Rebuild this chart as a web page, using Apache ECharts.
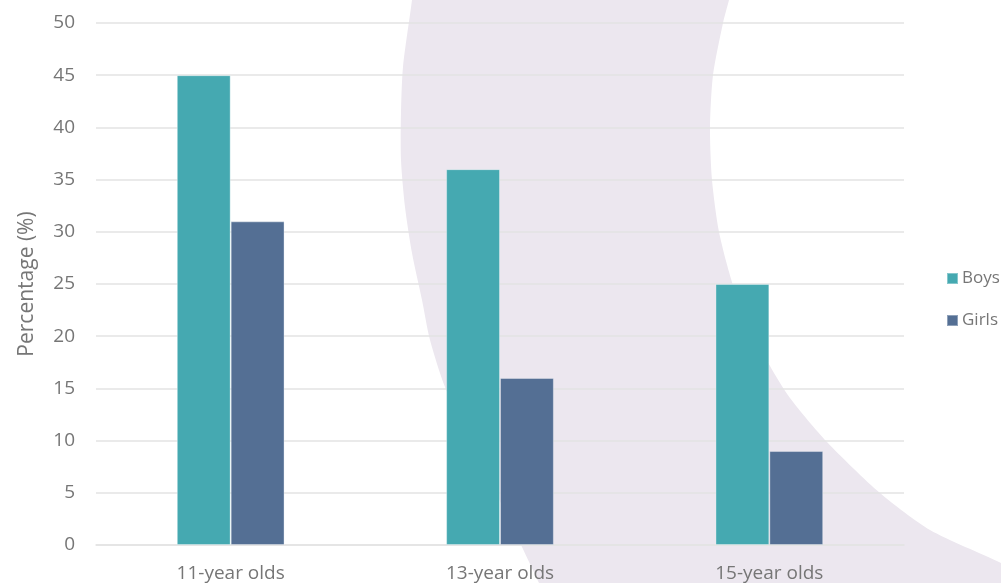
<!DOCTYPE html>
<html>
<head>
<meta charset="utf-8">
<script src="https://cdn.jsdelivr.net/npm/echarts@6/dist/echarts.min.js"></script>
<style>
html,body{margin:0;padding:0;background:#fff;}
#chart{width:1001px;height:583px;}
</style>
</head>
<body>
<div id="chart"></div>
<script>
const categories = ['11-year olds', '13-year olds', '15-year olds'];
const boys = [45, 36, 25];
const girls = [31, 16, 9];
const seriesNames = ['Boys', 'Girls'];

const leftEdge = [[414,-20],[412,0],[403,67],[401,113],[401,160],[405,207],[412,253],[422,300],[430,340],[445,387],[470,440],[496,493],[522,547],[539,583],[549,605]];
const rightEdge = [[1040,585],[1001,563],[930,530],[880,493],[827,442],[790,398],[770,366],[750,327],[733,285],[719,232],[712,180],[710,128],[713,75],[723,23],[729,0],[734,-20]];

const chart = echarts.init(document.getElementById('chart'), null, {renderer: 'canvas'});
const font = 'Open Sans';
const gray = '#767676';

chart.setOption({
  animation: false,
  color: ['#45A9B1', '#546F94'],
  graphic: [{
    type: 'polygon',
    z: -10,
    silent: true,
    shape: {
      points: leftEdge.concat([[565,700],[1100,700],[1100,620]], rightEdge, [[740,-80],[400,-80]]),
      smooth: 0.25,
      smoothConstraint: false
    },
    style: {fill: '#ECE7EF'}
  }],
  grid: {left: 96, right: 97, top: 23, bottom: 37, containLabel: false},
  legend: {
    orient: 'vertical',
    left: 941,
    top: 265,
    itemWidth: 11,
    itemHeight: 11,
    itemGap: 25,
    icon: 'rect',
    data: seriesNames,
    textStyle: {fontFamily: font, fontSize: 17, color: gray, padding: [0,0,0,-1]}
  },
  xAxis: {
    type: 'category',
    data: categories,
    axisLine: {lineStyle: {color: '#E3E3E3', width: 1.5}},
    axisTick: {show: false},
    axisLabel: {fontFamily: font, fontSize: 19, color: gray, margin: 19}
  },
  yAxis: {
    type: 'value',
    min: 0,
    max: 50,
    interval: 5,
    name: 'Percentage (%)',
    nameLocation: 'middle',
    nameGap: 58,
    nameTextStyle: {fontFamily: font, fontSize: 21, color: gray},
    axisLine: {show: false},
    axisTick: {show: false},
    axisLabel: {fontFamily: font, fontSize: 19, color: gray, margin: 21},
    splitLine: {lineStyle: {color: '#E3E3E3', width: 1.5}}
  },
  series: [
    {name: seriesNames[0], type: 'bar', data: boys, barGap: '0%', barCategoryGap: '60%',
     itemStyle: {borderColor: 'rgba(255,255,255,0.35)', borderWidth: 1}},
    {name: seriesNames[1], type: 'bar', data: girls, barGap: '0%', barCategoryGap: '60%',
     itemStyle: {borderColor: 'rgba(255,255,255,0.35)', borderWidth: 1}}
  ]
});
</script>
</body>
</html>
